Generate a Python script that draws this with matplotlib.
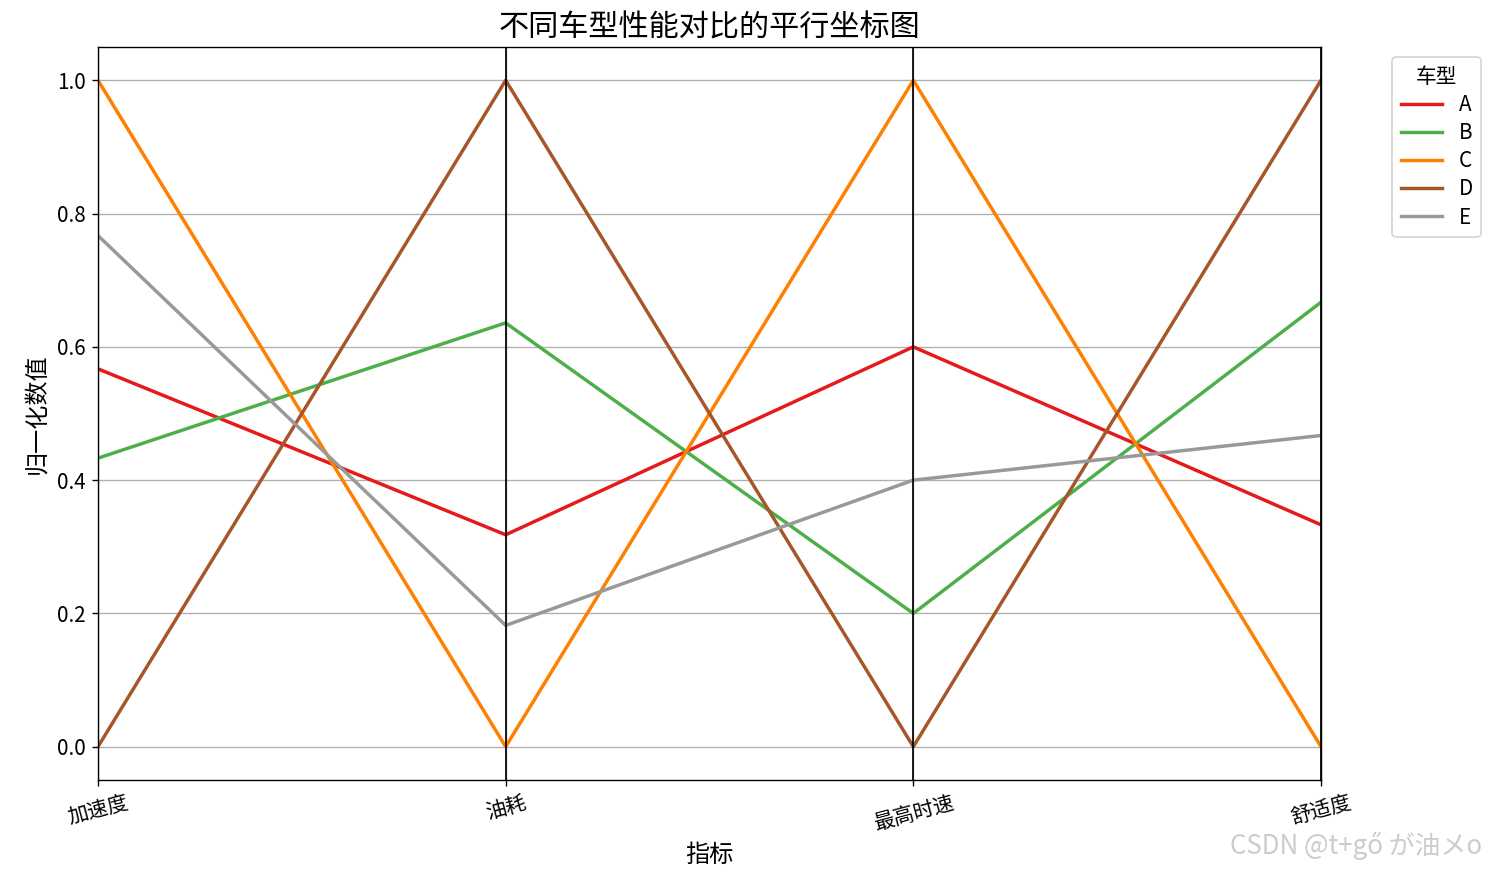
import matplotlib
matplotlib.use("Agg")
import matplotlib.pyplot as plt
import pandas as pd
from pandas.plotting import parallel_coordinates

plt.rcParams['font.family'] = ['Noto Sans CJK SC', 'DejaVu Sans']
plt.rcParams['axes.unicode_minus'] = False

models = ['A', 'B', 'C', 'D', 'E']
metrics = ['加速度', '油耗', '最高时速', '舒适度']
accel = [0.567, 0.433, 1.0, 0.0, 0.767]
fuel = [0.318, 0.636, 0.0, 1.0, 0.182]
top_speed = [0.6, 0.2, 1.0, 0.0, 0.4]
comfort = [0.333, 0.667, 0.0, 1.0, 0.467]

df = pd.DataFrame({'车型': models, metrics[0]: accel, metrics[1]: fuel,
                   metrics[2]: top_speed, metrics[3]: comfort})

DPI = 124
fig = plt.figure(figsize=(1487 / DPI, 872 / DPI), dpi=DPI)
ax = fig.add_axes([98/1487, 1 - 780/872, (1321-98)/1487, (780-47)/872])
parallel_coordinates(df, '车型', colormap='Set1', ax=ax, linewidth=2)
ax.set_ylim(-0.05, 1.05)
ax.set_title('不同车型性能对比的平行坐标图', fontsize=17.5)
ax.set_xlabel('指标', fontsize=14)
ax.set_ylabel('归一化数值', fontsize=14)
plt.setp(ax.get_xticklabels(), rotation=15, fontsize=12)
plt.setp(ax.get_yticklabels(), fontsize=12)
ax.legend(title='车型', bbox_to_anchor=(1.05, 1), loc='upper left', fontsize=12,
          title_fontsize=12, labelspacing=0.3)
fig.text(0.997, 0.03, 'CSDN @t+gő が油メo', ha='right', va='center', fontsize=15, color='#cccccc')
fig.savefig('out.png', dpi=DPI)
